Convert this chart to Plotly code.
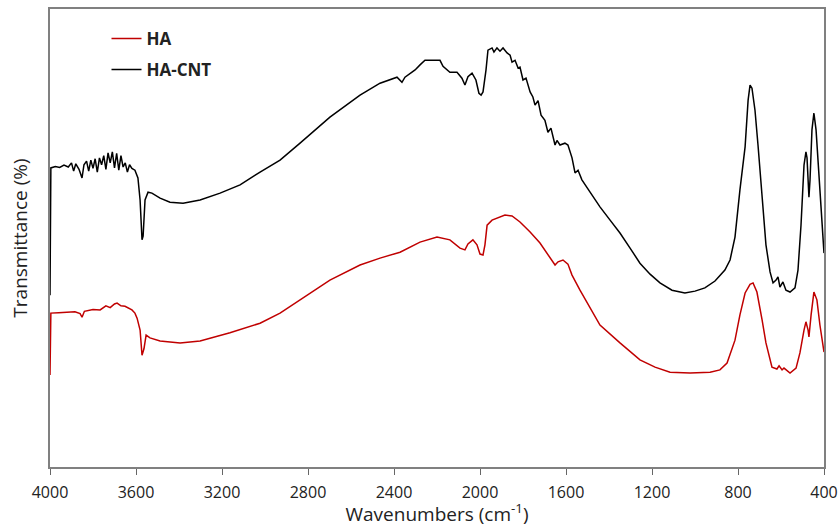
import plotly.graph_objects as go

# FTIR spectra (wavenumber in cm-1, transmittance in arbitrary %)
wn_ha = [4000, 3996, 3960, 3920, 3884, 3860, 3851, 3840, 3800, 3767, 3740, 3720, 3700,
         3688, 3670, 3651, 3635, 3619, 3605, 3595, 3581, 3572, 3563, 3553, 3535, 3488,
         3395, 3302, 3163, 3023, 2930, 2837, 2698, 2558, 2465, 2372, 2279, 2200, 2140,
         2093, 2070, 2056, 2033, 2014, 2000, 1986, 1977, 1967, 1944, 1884, 1851, 1814,
         1767, 1721, 1684, 1651, 1637, 1614, 1591, 1572, 1535, 1488, 1442, 1349, 1256,
         1186, 1116, 1023, 930, 884, 851, 814, 791, 767, 744, 730, 712, 688, 670, 642,
         619, 609, 595, 586, 558, 530, 512, 493, 484, 474, 470, 460, 447, 433, 419, 400]
t_ha = [20.1, 33.6, 33.7, 33.8, 33.9, 33.5, 32.7, 34.0, 34.4, 34.3, 35.2, 34.8, 35.6,
        35.8, 35.2, 35.1, 34.6, 34.3, 33.6, 32.5, 29.9, 24.4, 25.8, 28.8, 28.2, 27.5,
        27.1, 27.5, 29.3, 31.4, 33.6, 36.5, 40.8, 44.1, 45.6, 46.9, 49.1, 50.2, 49.6,
        47.8, 47.4, 48.7, 49.6, 48.5, 46.5, 46.3, 48.5, 52.8, 53.9, 55.0, 54.8, 53.5,
        51.3, 48.9, 46.3, 44.1, 44.8, 45.2, 44.3, 41.9, 38.6, 34.9, 31.0, 27.1, 23.4,
        21.8, 20.7, 20.5, 20.7, 21.2, 22.7, 27.7, 33.2, 38.0, 39.9, 40.2, 38.2, 32.1,
        27.1, 21.8, 21.4, 22.1, 21.2, 21.6, 20.5, 21.6, 24.9, 29.9, 31.7, 29.9, 28.4,
        33.2, 38.2, 36.5, 31.0, 25.1]

wn_cnt = [4000, 3996, 3975, 3955, 3935, 3915, 3900, 3890, 3880, 3865, 3851, 3842, 3830,
          3820, 3810, 3800, 3790, 3780, 3770, 3760, 3750, 3740, 3730, 3720, 3710, 3700,
          3690, 3680, 3670, 3660, 3650, 3640, 3630, 3619, 3605, 3591, 3581, 3572, 3567,
          3558, 3544, 3526, 3488, 3442, 3381, 3302, 3209, 3116, 3023, 2930, 2837, 2698,
          2558, 2465, 2386, 2372, 2363, 2349, 2302, 2279, 2256, 2186, 2172, 2140, 2107,
          2084, 2070, 2056, 2037, 2019, 2005, 1995, 1986, 1972, 1963, 1944, 1935, 1921,
          1907, 1893, 1874, 1860, 1851, 1837, 1823, 1814, 1800, 1786, 1767, 1754, 1744,
          1730, 1716, 1698, 1684, 1670, 1651, 1642, 1628, 1605, 1591, 1572, 1558, 1544,
          1526, 1488, 1442, 1395, 1349, 1302, 1256, 1209, 1163, 1107, 1047, 1000, 954,
          907, 861, 837, 814, 791, 767, 753, 744, 735, 721, 707, 688, 670, 651, 637, 623,
          614, 605, 591, 577, 558, 535, 521, 507, 493, 484, 479, 470, 465, 456, 447, 437,
          428, 414, 400]
t_cnt = [37.5, 65.3, 65.6, 65.4, 65.9, 65.5, 66.4, 64.6, 66.2, 65.0, 63.1, 66.0, 66.8,
         64.6, 67.0, 65.2, 67.3, 64.4, 67.5, 66.0, 68.0, 65.0, 68.6, 66.4, 68.8, 65.3,
         68.5, 64.8, 68.0, 65.5, 66.4, 64.4, 66.0, 65.2, 64.8, 63.1, 58.3, 49.6, 50.4,
         58.3, 60.0, 59.8, 58.7, 57.8, 57.6, 58.3, 59.8, 61.6, 64.4, 67.0, 70.7, 76.4,
         81.2, 83.8, 85.1, 84.5, 84.0, 85.1, 86.7, 87.8, 88.8, 88.8, 87.5, 86.2, 86.2,
         84.9, 83.4, 85.2, 86.0, 84.5, 81.6, 81.2, 81.9, 86.7, 91.0, 91.5, 90.6, 91.5,
         90.8, 91.5, 90.4, 89.9, 88.4, 88.8, 87.1, 87.3, 84.5, 84.9, 81.9, 80.8, 79.0,
         80.0, 76.8, 75.7, 73.1, 74.0, 70.3, 71.3, 70.3, 70.7, 70.3, 67.5, 64.2, 64.8,
         62.7, 60.0, 56.8, 53.9, 51.1, 47.8, 44.5, 42.1, 40.2, 38.6, 38.0, 38.4, 39.1,
         40.6, 43.0, 45.2, 50.2, 60.5, 69.9, 80.1, 83.4, 82.7, 77.9, 70.3, 58.9, 48.5,
         42.6, 40.2, 40.8, 41.5, 39.3, 40.4, 38.6, 38.2, 39.1, 43.0, 52.8, 65.9, 68.8,
         67.5, 58.9, 62.7, 73.6, 77.3, 73.6, 66.4, 56.1, 46.7]

x_ticks = [4000, 3600, 3200, 2800, 2400, 2000, 1600, 1200, 800, 400]

fig = go.Figure()
fig.add_trace(go.Scatter(x=wn_ha, y=t_ha, mode="lines", name="<b>HA</b>", legendgroup="a",
                         line=dict(color="#C00000", width=1.5)))
fig.add_trace(go.Scatter(x=wn_cnt, y=t_cnt, mode="lines", name="<b>HA-CNT</b>", legendgroup="b",
                         line=dict(color="black", width=1.5)))

fig.update_layout(
    width=840, height=527,
    margin=dict(l=50, r=16, t=9, b=60),
    paper_bgcolor="white", plot_bgcolor="white",
    font=dict(family="Open Sans, sans-serif", color="#222"),
    showlegend=True,
    legend=dict(x=0.073, y=0.974, xanchor="left", yanchor="top",
                font=dict(size=17, color="#222"), tracegroupgap=6,
                bgcolor="rgba(0,0,0,0)"),
    xaxis=dict(range=[4000, 400], tickvals=x_ticks, ticks="outside", ticklen=6,
               tickcolor="#666", showline=True, linecolor="#808080", linewidth=1.5,
               mirror=True, showgrid=False, zeroline=False, automargin=False,
               tickfont=dict(size=16, color="#222"), ticklabelstandoff=4,
               title=dict(text="Wavenumbers (cm<sup>-1</sup>)", font=dict(size=19), standoff=12)),
    yaxis=dict(range=[0, 100], showticklabels=False, ticks="", showline=True,
               linecolor="#808080", linewidth=1.5, mirror=True, showgrid=False,
               zeroline=False, automargin=False,
               title=dict(text="Transmittance (%)", font=dict(size=19), standoff=16)),
)

# drop the page's default body margin so the figure sits at the window corner
fig.write_html("out.html", config={"displayModeBar": False},
               post_script="document.body.style.margin='0';")
